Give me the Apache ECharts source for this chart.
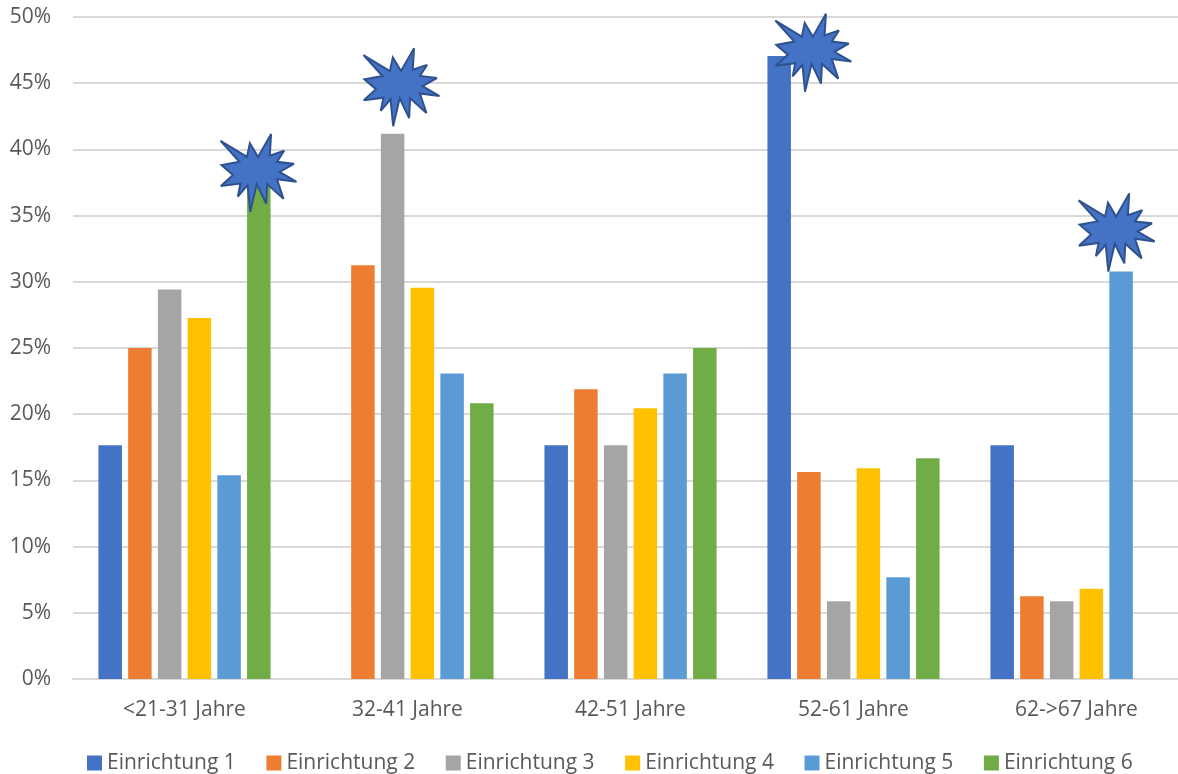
<!DOCTYPE html>
<html>
<head>
<meta charset="utf-8">
<style>html,body{margin:0;padding:0;background:#fff;overflow:hidden;width:1178px;height:774px}#c{width:1200px;height:774px}</style>
<script src="https://cdn.jsdelivr.net/npm/echarts@6/dist/echarts.min.js"></script>
</head>
<body>
<div id="c"></div>
<script>
const categories = ['<21-31 Jahre', '32-41 Jahre', '42-51 Jahre', '52-61 Jahre', '62->67 Jahre'];
const einrichtung1 = [17.65, null, 17.65, 47.06, 17.65];
const einrichtung2 = [25, 31.25, 21.88, 15.63, 6.25];
const einrichtung3 = [29.41, 41.18, 17.65, 5.88, 5.88];
const einrichtung4 = [27.27, 29.55, 20.45, 15.91, 6.82];
const einrichtung5 = [15.38, 23.08, 23.08, 7.69, 30.77];
const einrichtung6 = [37.5, 20.83, 25, 16.67, null];
const seriesNames = ['Einrichtung 1', 'Einrichtung 2', 'Einrichtung 3', 'Einrichtung 4', 'Einrichtung 5', 'Einrichtung 6'];
const seriesValues = [einrichtung1, einrichtung2, einrichtung3, einrichtung4, einrichtung5, einrichtung6];
const seriesColors = ['#4472C4', '#ED7D31', '#A5A5A5', '#FFC000', '#5B9BD5', '#70AD47'];
const starMarks = [[0.832, 38.22], [1.473, 44.7], [3.32, 47.3], [4.68, 33.72]];
const starPath = 'path://M517,133L598,182L607,140L632,182L672,112L668,178L712,163L690,197L742,203L698,228L750,258L690,250L710,310L660,265L657,325L628,265L608,350L600,268L570,303L578,263L518,271L555,237L520,207L575,197Z';

const font = '"Open Sans", "Noto Sans", sans-serif';
const chart = echarts.init(document.getElementById('c'), null, {renderer: 'canvas'});
chart.setOption({
  animation: false,
  backgroundColor: '#fff',
  grid: {left: 73, top: 17, width: 1115, height: 662, containLabel: false},
  legend: {
    data: seriesNames,
    left: 87, top: 750,
    padding: 0,
    icon: 'rect',
    itemWidth: 15, itemHeight: 15,
    itemGap: 30.6,
    textStyle: {color: '#595959', fontFamily: font, fontSize: 21, lineHeight: 26}
  },
  xAxis: [
    {
      type: 'category', data: categories, gridIndex: 0,
      axisLine: {lineStyle: {color: '#D9D9D9', width: 2}},
      axisTick: {show: false},
      axisLabel: {color: '#595959', fontFamily: font, fontSize: 21, margin: 21, interval: 0}
    },
    {type: 'value', min: 0, max: 5, gridIndex: 0, show: false}
  ],
  yAxis: {
    type: 'value', min: 0, max: 50, interval: 5,
    axisLine: {show: false}, axisTick: {show: false},
    splitLine: {lineStyle: {color: '#D9D9D9', width: 2}},
    axisLabel: {color: '#595959', fontFamily: font, fontSize: 21, margin: 22, padding: [4, 0, 0, 0], formatter: '{value}%'}
  },
  series: seriesNames.map((name, i) => ({
    name, type: 'bar', data: seriesValues[i], xAxisIndex: 0,
    barWidth: 23.5, barGap: '26.5%',
    itemStyle: {color: seriesColors[i]}
  })).concat([{
    name: 'Stern', type: 'scatter', xAxisIndex: 1, yAxisIndex: 0, data: starMarks,
    symbol: starPath, symbolSize: [76, 78], z: 10,
    itemStyle: {color: '#4472C4', borderColor: '#2F528F', borderWidth: 2, borderMiterLimit: 3, opacity: 1}
  }])
});
</script>
</body>
</html>
